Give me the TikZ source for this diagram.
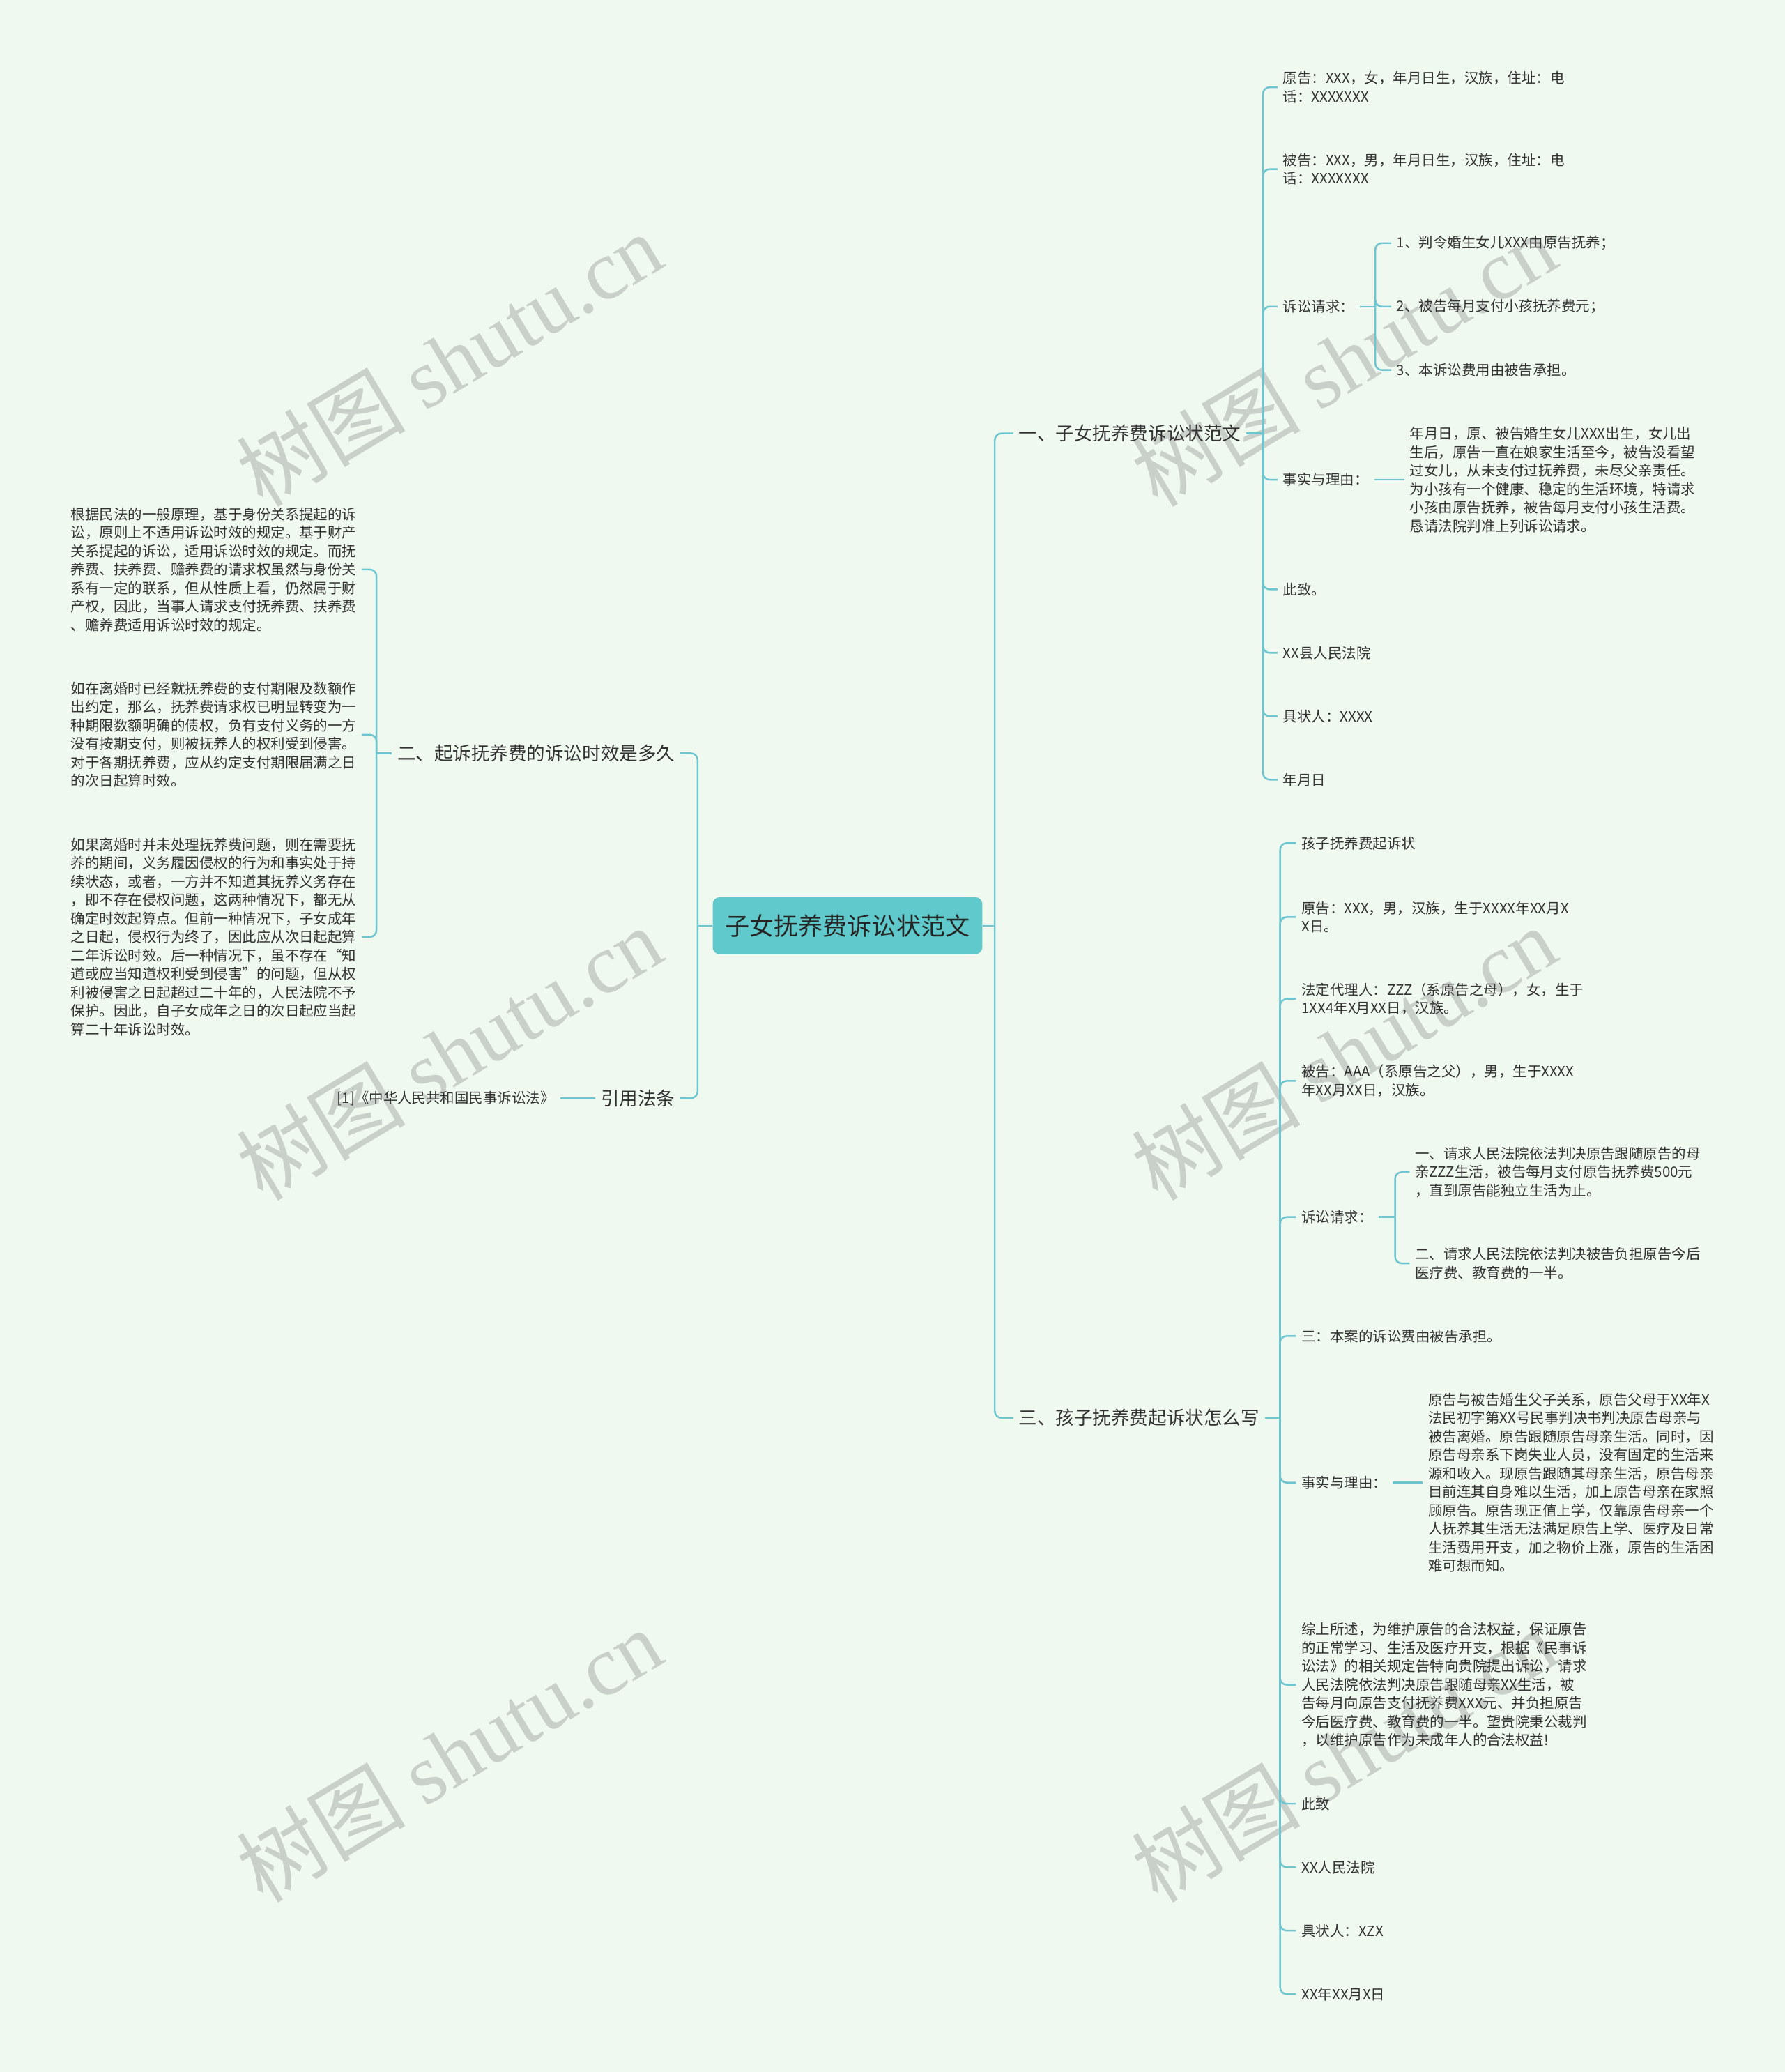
\documentclass[tikz,border=0pt]{standalone}
\usepackage{fontspec}
\setmainfont{Noto Sans CJK SC}
\newfontfamily\wmfont{Liberation Serif}
\usepackage{tikz}
\usetikzlibrary{positioning, calc}
\usepackage{xcolor}
\definecolor{bgcol}{HTML}{F0F9EF}
\definecolor{linecol}{HTML}{6CC5CF}
\definecolor{rootcol}{HTML}{5FC9CB}
\definecolor{txtcol}{HTML}{333333}
\definecolor{wmcol}{HTML}{C9CFC9}

\tikzset{
  link/.style={draw=linecol, line width=1.3pt, rounded corners=5pt},
  leaf/.style={inner xsep=4pt, inner ysep=2pt, align=left, text=txtcol,
    font=\fontsize{10.8}{14}\selectfont},
  branch/.style={inner xsep=4pt, inner ysep=2pt, text=txtcol,
    font=\fontsize{14}{17}\selectfont},
  root/.style={fill=rootcol, rounded corners=5pt, minimum width=204pt,
    minimum height=43pt, text=black!85, font=\fontsize{18.5}{22}\selectfont},
  wmark/.style={text=wmcol, rotate=31, font=\fontsize{64}{64}\selectfont}
}

\begin{document}
\begin{tikzpicture}[x=1pt, y=-1pt]
  \useasboundingbox (0,0) rectangle (1351,1568);
  \fill[bgcol] (0,0) rectangle (1351,1568);

  % watermarks
  \foreach \wx/\wy [count=\i] in {340/272, 1017/272, 340/797, 1017/797, 340/1328, 1017/1328}
    \node[wmark] (wm\i) at (\wx,\wy) {树图 {\wmfont shutu.cn}};

  % root
  \node[root] (root) at (641.5,700.5) {子女抚养费诉讼状范文};

  % main branches
  \node[branch, anchor=west] (b1) at (767,328) {一、子女抚养费诉讼状范文};
  \node[branch, anchor=west] (b3) at (767,1073) {三、孩子抚养费起诉状怎么写};
  \node[branch, anchor=east] (b2) at (515,570) {二、起诉抚养费的诉讼时效是多久};
  \node[branch, anchor=east] (b4) at (515,831) {引用法条};

  % branch one
  \node[leaf, anchor=west] (c1) at (967,66) {原告：XXX，女，年月日生，汉族，住址：电\\话：XXXXXXX};
  \node[leaf, anchor=west] (c2) at (967,128) {被告：XXX，男，年月日生，汉族，住址：电\\话：XXXXXXX};
  \node[leaf, anchor=west] (c3) at (967,232) {诉讼请求：};
  \node[leaf, anchor=west] (c31) at (1053,184) {1、判令婚生女儿XXX由原告抚养；};
  \node[leaf, anchor=west] (c32) at (1053,232) {2、被告每月支付小孩抚养费元；};
  \node[leaf, anchor=west] (c33) at (1053,280) {3、本诉讼费用由被告承担。};
  \node[leaf, anchor=west] (c4) at (967,363) {事实与理由：};
  \node[leaf, anchor=west] (c41) at (1063,363) {年月日，原、被告婚生女儿XXX出生，女儿出\\
    生后，原告一直在娘家生活至今，被告没看望\\
    过女儿，从未支付过抚养费，未尽父亲责任。\\
    为小孩有一个健康、稳定的生活环境，特请求\\
    小孩由原告抚养，被告每月支付小孩生活费。\\
    恳请法院判准上列诉讼请求。};
  \node[leaf, anchor=west] (c5) at (967,446) {此致。};
  \node[leaf, anchor=west] (c6) at (967,494) {XX县人民法院};
  \node[leaf, anchor=west] (c7) at (967,542) {具状人：XXXX};
  \node[leaf, anchor=west] (c8) at (967,590) {年月日};

  % branch three
  \node[leaf, anchor=west] (d1) at (981,638) {孩子抚养费起诉状};
  \node[leaf, anchor=west] (d2) at (981,694) {原告：XXX，男，汉族，生于XXXX年XX月X\\X日。};
  \node[leaf, anchor=west] (d3) at (981,756) {法定代理人：ZZZ（系原告之母），女，生于\\1XX4年X月XX日，汉族。};
  \node[leaf, anchor=west] (d4) at (981,818) {被告：AAA（系原告之父），男，生于XXXX\\年XX月XX日，汉族。};
  \node[leaf, anchor=west] (d5) at (981,921) {诉讼请求：};
  \node[leaf, anchor=west] (d51) at (1067,887) {一、请求人民法院依法判决原告跟随原告的母\\
    亲ZZZ生活，被告每月支付原告抚养费500元\\
    ，直到原告能独立生活为止。};
  \node[leaf, anchor=west] (d52) at (1067,956) {二、请求人民法院依法判决被告负担原告今后\\
    医疗费、教育费的一半。};
  \node[leaf, anchor=west] (d6) at (981,1011) {三：本案的诉讼费由被告承担。};
  \node[leaf, anchor=west] (d7) at (981,1122) {事实与理由：};
  \node[leaf, anchor=west] (d71) at (1077,1122) {原告与被告婚生父子关系，原告父母于XX年X\\
    法民初字第XX号民事判决书判决原告母亲与\\
    被告离婚。原告跟随原告母亲生活。同时，因\\
    原告母亲系下岗失业人员，没有固定的生活来\\
    源和收入。现原告跟随其母亲生活，原告母亲\\
    目前连其自身难以生活，加上原告母亲在家照\\
    顾原告。原告现正值上学，仅靠原告母亲一个\\
    人抚养其生活无法满足原告上学、医疗及日常\\
    生活费用开支，加之物价上涨，原告的生活困\\
    难可想而知。};
  \node[leaf, anchor=west] (d8) at (981,1275) {综上所述，为维护原告的合法权益，保证原告\\
    的正常学习、生活及医疗开支，根据《民事诉\\
    讼法》的相关规定告特向贵院提出诉讼，请求\\
    人民法院依法判决原告跟随母亲XX生活，被\\
    告每月向原告支付抚养费XXX元、并负担原告\\
    今后医疗费、教育费的一半。望贵院秉公裁判\\
    ，以维护原告作为未成年人的合法权益!};
  \node[leaf, anchor=west] (d9) at (981,1365) {此致};
  \node[leaf, anchor=west] (d10) at (981,1413) {XX人民法院};
  \node[leaf, anchor=west] (d11) at (981,1461) {具状人：XZX};
  \node[leaf, anchor=west] (d12) at (981,1509) {XX年XX月X日};

  % branch two
  \node[leaf, anchor=east] (e1) at (274,431) {根据民法的一般原理，基于身份关系提起的诉\\
    讼，原则上不适用诉讼时效的规定。基于财产\\
    关系提起的诉讼，适用诉讼时效的规定。而抚\\
    养费、扶养费、赡养费的请求权虽然与身份关\\
    系有一定的联系，但从性质上看，仍然属于财\\
    产权，因此，当事人请求支付抚养费、扶养费\\
    、赡养费适用诉讼时效的规定。};
  \node[leaf, anchor=east] (e2) at (274,556) {如在离婚时已经就抚养费的支付期限及数额作\\
    出约定，那么，抚养费请求权已明显转变为一\\
    种期限数额明确的债权，负有支付义务的一方\\
    没有按期支付，则被抚养人的权利受到侵害。\\
    对于各期抚养费，应从约定支付期限届满之日\\
    的次日起算时效。};
  \node[leaf, anchor=east] (e3) at (274,709) {如果离婚时并未处理抚养费问题，则在需要抚\\
    养的期间，义务履因侵权的行为和事实处于持\\
    续状态，或者，一方并不知道其抚养义务存在\\
    ，即不存在侵权问题，这两种情况下，都无从\\
    确定时效起算点。但前一种情况下，子女成年\\
    之日起，侵权行为终了，因此应从次日起起算\\
    二年诉讼时效。后一种情况下，虽不存在“知\\
    道或应当知道权利受到侵害”的问题，但从权\\
    利被侵害之日起超过二十年的，人民法院不予\\
    保护。因此，自子女成年之日的次日起应当起\\
    算二十年诉讼时效。};

  % branch four
  \node[leaf, anchor=east] (f1) at (424,831) {[1]《中华人民共和国民事诉讼法》};

  % connectors
  \coordinate (jr) at (753,700.5);
  \coordinate (jl) at (528,700.5);
  \draw[link] (root.east) -- (jr);
  \draw[link] (jr) |- (b1.west);
  \draw[link] (jr) |- (b3.west);
  \draw[link] (root.west) -- (jl);
  \draw[link] (jl) |- (b2.east);
  \draw[link] (jl) |- (b4.east);

  \coordinate (j1) at (956,328);
  \draw[link] (b1.east) -- (j1);
  \foreach \c in {c1,c2,c3,c4,c5,c6,c7,c8}
    \draw[link] (j1) |- (\c.west);
  \coordinate (j13) at (1041,232);
  \draw[link] (c3.east) -- (j13);
  \foreach \c in {c31,c32,c33}
    \draw[link] (j13) |- (\c.west);
  \draw[link] (c4.east) -- (c41.west);

  \coordinate (j3) at (969,1073);
  \draw[link] (b3.east) -- (j3);
  \foreach \c in {d1,d2,d3,d4,d5,d6,d7,d8,d9,d10,d11,d12}
    \draw[link] (j3) |- (\c.west);
  \coordinate (j35) at (1056,921);
  \draw[link] (d5.east) -- (j35);
  \foreach \c in {d51,d52}
    \draw[link] (j35) |- (\c.west);
  \draw[link] (d7.east) -- (d71.west);

  \coordinate (j2) at (285,570);
  \draw[link] (b2.west) -- (j2);
  \foreach \c in {e1,e2,e3}
    \draw[link] (j2) |- (\c.east);
  \draw[link] (b4.west) -- (f1.east);
\end{tikzpicture}
\end{document}
